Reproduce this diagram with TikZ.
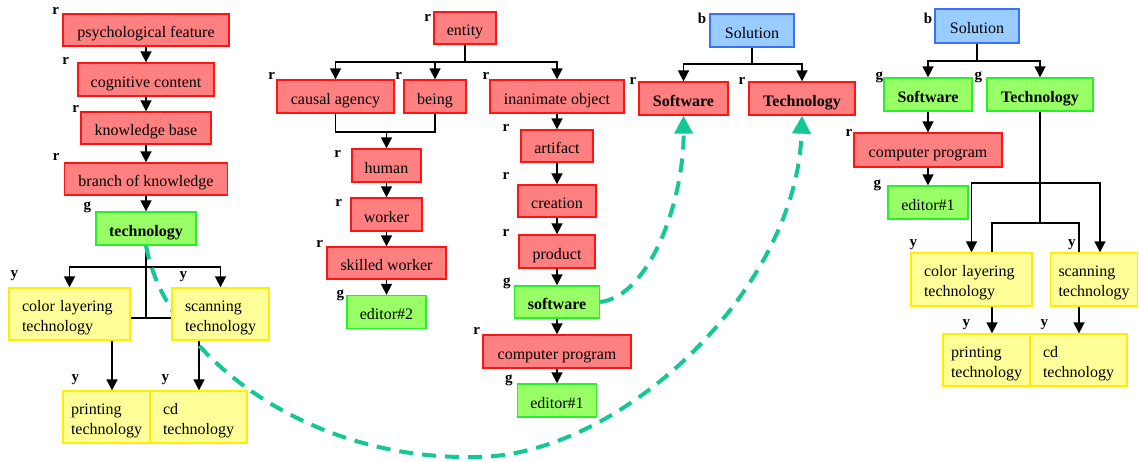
\documentclass[tikz,border=0pt]{standalone}
\usepackage{fontspec}
\setmainfont{Liberation Serif}
\usetikzlibrary{arrows.meta,backgrounds}
\definecolor{rfill}{RGB}{255,128,128}
\definecolor{rline}{RGB}{255,20,20}
\definecolor{gfill}{RGB}{153,255,102}
\definecolor{gline}{RGB}{40,240,40}
\definecolor{yfill}{RGB}{255,255,153}
\definecolor{yline}{RGB}{255,238,0}
\definecolor{bfill}{RGB}{153,204,255}
\definecolor{bline}{RGB}{60,110,255}
\definecolor{tealc}{RGB}{20,200,150}
\newcommand{\twol}[2]{\rule{0pt}{18.5pt}#1\\#2\rule[-4.5pt]{0pt}{4.5pt}}
\begin{document}
\begin{tikzpicture}[x=1pt,y=-1pt,
  box/.style={draw, line width=1.3pt, inner sep=0pt, text height=19pt, text depth=4pt,
              font=\fontsize{16}{20}\selectfont},
  bld/.style={font=\bfseries\fontsize{16}{20}\selectfont},
  rb/.style={box, fill=rfill, draw=rline},
  gb/.style={box, fill=gfill, draw=gline},
  bb/.style={box, fill=bfill, draw=bline},
  yb/.style={box, fill=yfill, draw=yline, align=left, inner xsep=#1pt, text height={}, text depth={}},
  sz/.style 2 args={minimum width=#1pt, minimum height=#2pt},
  tw/.style={text width=#1pt},
  tagf/.style={font=\bfseries\fontsize{15}{15}\selectfont, inner sep=0pt, anchor=base east},
  tg/.style n args={3}{label={[tagf,xshift=#2pt,yshift=#3pt]north west:#1}},
  edge/.style={line width=1.6pt, -{Triangle[length=11pt,width=11pt]}},
  plain/.style={line width=1.6pt},
  tdash/.style={tealc, line width=4pt, dash pattern=on 14pt off 9pt, -{Triangle[length=18pt,width=18pt]}},
]
\useasboundingbox (0,0) rectangle (1139,461);

% ---------- left tree ----------
\node[rb, sz={166}{32}, tg={r}{-3}{-1}] (pf) at (146,30) {psychological feature};
\node[rb, sz={136}{33}, tg={r}{-8}{-2}] (cc) at (146,79.5) {cognitive content};
\node[rb, sz={130}{32}, tg={r}{-1}{-1}] (kb) at (146,128) {knowledge base};
\node[rb, sz={163}{32}, tg={r}{-4}{2}] (bk) at (146,179) {branch of knowledge};
\node[gb, bld, sz={100}{33}, tg={g}{-4}{2}] (tech) at (146,228.5) {technology};
\node[yb=13, tw=95, sz={121}{52}, tg={y}{10}{10}] (clt) at (69.5,314) {\twol{color layering}{technology}};
\node[yb=13, tw=71, sz={97}{52}, tg={y}{16}{9}] (sct) at (220.5,314) {\twol{scanning}{technology}};
\node[yb=8, tw=71, sz={87}{52}, tg={y}{17}{9}] (pt) at (106.5,417) {\twol{printing}{technology}};
\node[yb=13, tw=71, sz={97}{52}, tg={y}{20}{9}] (cdt) at (198.5,417) {\twol{cd}{technology}};

% ---------- middle tree ----------
\node[rb, sz={62}{32}, tg={r}{-2}{-10}] (ent) at (465,28) {entity};
\node[rb, sz={117}{33}, tg={r}{-1}{0}] (ca) at (335.5,96.5) {causal agency};
\node[rb, sz={62}{33}, tg={r}{-1}{0}] (being) at (435,96.5) {being};
\node[rb, sz={134}{33}, tg={r}{0}{0}] (io) at (557,96.5) {inanimate object};
\node[rb, sz={69}{33}, tg={r}{-10}{-9}] (hum) at (386.5,165.5) {human};
\node[rb, sz={71}{33}, tg={r}{-8}{-9}] (wk) at (386.5,214.5) {worker};
\node[rb, sz={119}{32}, tg={r}{-3}{-1}] (sw) at (386.5,263) {skilled worker};
\node[gb, sz={79}{33}, tg={g}{-2}{-3}] (ed2) at (386.5,312) {editor\#2};
\node[rb, sz={72}{32}, tg={r}{-11}{-2}] (art) at (557,146) {artifact};
\node[rb, sz={78}{32}, tg={r}{-8}{5}] (cre) at (557,201) {creation};
\node[rb, sz={76}{33}, tg={r}{-9}{-2}] (prod) at (557,251.5) {product};
\node[gb, bld, sz={85}{32}, tg={g}{-3}{0}] (soft) at (557,302) {software};
\node[rb, sz={148}{33}, tg={r}{-2}{0}] (cp) at (557,351.5) {computer program};
\node[gb, sz={79}{33}, tg={g}{-4}{1}] (ed1) at (557,400.5) {editor\#1};

% ---------- solution 1 ----------
\node[bb, sz={84}{33}, tg={b}{-3}{-10}] (sol1) at (752,30.5) {Solution};
\node[rb, bld, sz={89}{33}, tg={r}{-2}{-3}] (sw1) at (683.5,98.5) {Software};
\node[rb, bld, sz={106}{33}, tg={r}{-3}{-3}] (tc1) at (802,98.5) {Technology};

% ---------- solution 2 ----------
\node[bb, sz={84}{34}, tg={b}{-2}{-15}] (sol2) at (977,26) {Solution};
\node[gb, bld, sz={88}{33}, tg={g}{0}{-2}] (sw2) at (928,94.5) {Software};
\node[gb, bld, sz={106}{33}, tg={g}{-4}{-2}] (tc2) at (1040,94.5) {Technology};
\node[rb, sz={148}{34}, tg={r}{-1}{-4}] (cp2) at (928,150) {computer program};
\node[gb, sz={80}{33}, tg={g}{-6}{-2}] (ed1b) at (928,202.5) {editor\#1};
\node[yb=13, tw=95, sz={121}{53}, tg={y}{7}{6}] (clt2) at (971.5,279.5) {\twol{color layering}{technology}};
\node[yb=8, tw=71, sz={87}{53}, tg={y}{26}{6}] (sct2) at (1094,279.5) {\twol{scanning}{technology}};
\node[yb=8, tw=71, sz={87}{52}, tg={y}{28}{7}] (pt2) at (986.5,360) {\twol{printing}{technology}};
\node[yb=13, tw=71, sz={97}{52}, tg={y}{19}{7}] (cdt2) at (1078.5,360) {\twol{cd}{technology}};

% ---------- connectors (behind boxes) ----------
\begin{scope}[on background layer]
\fill[white] (0,0) rectangle (1139,461);
% left
\draw[edge] (pf) -- (cc);
\draw[edge] (cc) -- (kb);
\draw[edge] (kb) -- (bk);
\draw[edge] (bk) -- (tech);
\coordinate (tb) at (146,267);
\coordinate (tm) at (146,318);
\coordinate (pa) at (112,318);
\coordinate (cda) at (199,318);
\draw[plain] (tech.south) -- (tm);
\draw[edge] (tb) -| (clt.north);
\draw[edge] (tb) -| (sct.north);
\draw[edge] (tm) -- (pa) -- (pa |- pt.north);
\draw[edge] (tm) -- (cda) -- (cda |- cdt.north);
% middle
\coordinate (eb) at (465,62);
\draw[plain] (ent.south) -- (eb);
\draw[edge] (eb) -| (ca.north);
\draw[edge] (eb) -| (being.north);
\draw[edge] (eb) -| (io.north);
\coordinate (mg) at (386.5,132);
\draw[plain] (ca.south) -- (ca.south |- mg) -- (being.south |- mg) -- (being.south);
\draw[edge] (mg) -- (hum.north);
\draw[edge] (hum) -- (wk);
\draw[edge] (wk) -- (sw);
\draw[edge] (sw) -- (ed2);
\draw[edge] (io) -- (art);
\draw[edge] (art) -- (cre);
\draw[edge] (cre) -- (prod);
\draw[edge] (prod) -- (soft);
\draw[edge] (soft) -- (cp);
\draw[edge] (cp) -- (ed1);
% solution 1
\coordinate (sb) at (752,64);
\draw[plain] (sol1.south) -- (sb);
\draw[edge] (sb) -| (sw1.north);
\draw[edge] (sb) -| (tc1.north);
% solution 2
\coordinate (s2b) at (977,61);
\draw[plain] (sol2.south) -- (s2b);
\draw[edge] (s2b) -| (sw2.north);
\draw[edge] (s2b) -| (tc2.north);
\draw[edge] (sw2) -- (cp2);
\draw[edge] (cp2) -- (ed1b);
\coordinate (t2a) at (1040,183);
\coordinate (t2b) at (1040,223);
\coordinate (t2c) at (1100,183);
\coordinate (t2d) at (992,223);
\coordinate (t2e) at (1079,223);
\draw[plain] (tc2.south) -- (t2b);
\draw[edge] (t2a) -| (clt2.north);
\draw[edge] (t2a) -- (t2c) -- (t2c |- sct2.north);
\draw[edge] (t2b) -- (t2d) -- (t2d |- pt2.north);
\draw[edge] (t2b) -- (t2e) -- (t2e |- cdt2.north);
% dashed teal links
\coordinate (low) at (475,457);
\draw[tdash] (soft.east) .. controls (650,296) and (684,200) .. (sw1.south);
\draw[tdash] (tech.south) .. controls (165,350) and (300,460) .. (low)
   .. controls (620,457) and (797,290) .. (tc1.south);
\end{scope}
\end{tikzpicture}
\end{document}
